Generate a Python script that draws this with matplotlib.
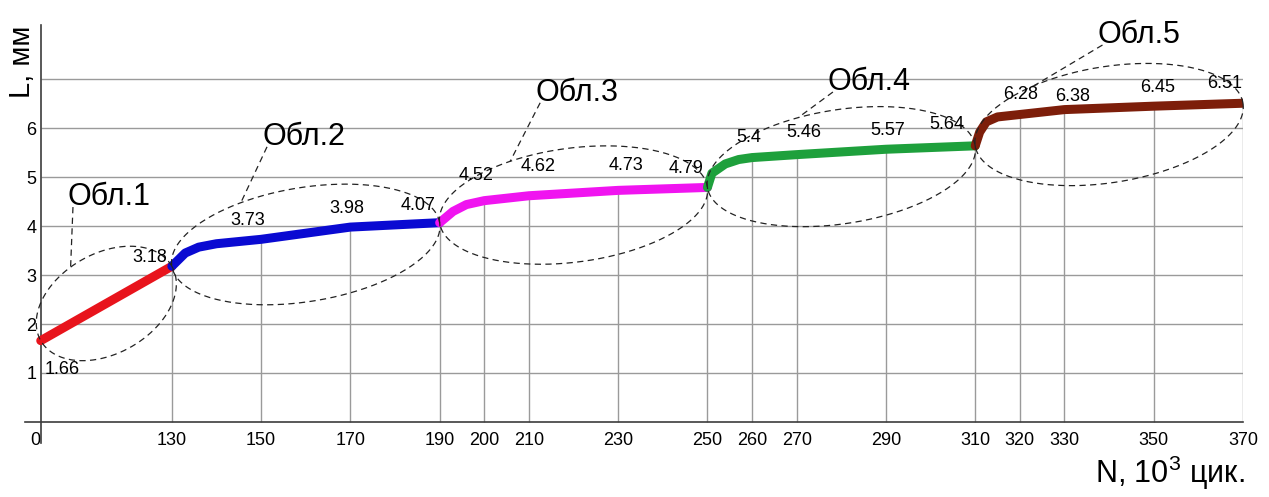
import numpy as np
import matplotlib.pyplot as plt

plt.rcParams['font.family'] = ['Liberation Sans', 'DejaVu Sans']
plt.rcParams['mathtext.fontset'] = 'custom'
plt.rcParams['mathtext.rm'] = 'Liberation Sans'
plt.rcParams['mathtext.it'] = 'Liberation Sans:italic'

# measured points (N in 10^3 cycles, crack length L in mm)
N_TICKS = [0, 130, 150, 170, 190, 200, 210, 230, 250, 260, 270, 290, 310, 320, 330, 350, 370]
L_TICKS = [1.66, 3.18, 3.73, 3.98, 4.07, 4.52, 4.62, 4.73, 4.79, 5.4, 5.46, 5.57, 5.64, 6.28, 6.38, 6.45, 6.51]

# extra points on the fast rise at the start of each stage
KNEE_N = [133, 136, 140, 193, 196, 251, 254, 257, 311, 312.5, 315]
KNEE_L = [3.45, 3.57, 3.64, 4.30, 4.44, 5.08, 5.27, 5.36, 5.92, 6.13, 6.23]

BOUNDS = [0, 130, 190, 250, 310, 370]
COLORS = ['#e8141c', '#0a0ad2', '#f014f0', '#1ea03c', '#7d1e0a']
NAMES = ['Обл.1', 'Обл.2', 'Обл.3', 'Обл.4', 'Обл.5']
NAME_N = [27, 150.2, 211.4, 277, 337.4]
NAME_L = [4.43, 5.66, 6.56, 6.78, 7.74]

# label offsets (pixels) for the values
OFFS = [(21, -29), (-22, 9), (-13, 19), (-4, 19), (-22, 17), (-8, 25), (9, 29), (8, 25),
        (-21, 19), (-3, 20), (7, 22), (2, 19), (-28, 21), (1, 20), (8, 13), (4, 19), (-18, 20)]
ELL_B = [50, 57, 57, 57, 58]
LEADER_T = [100, 115, 115, 105, 120]

# the first 130 thousand cycles are squeezed on the axis
SQ = 0.226


def fwd(x):
    x = np.asarray(x, dtype=float)
    return np.where(x < 130, x * SQ, 130 * SQ + x - 130)


def inv(u):
    u = np.asarray(u, dtype=float)
    return np.where(u < 130 * SQ, u / SQ, u - 130 * SQ + 130)


fig = plt.figure(figsize=(12.69, 4.97), dpi=100)
ax = fig.add_axes([0.0197, 0.1087, 0.9598, 0.8402])
ax.set_xscale('function', functions=(fwd, inv))
ax.set_xlim(-15.6, 370)
ax.set_ylim(-0.43, 8.1)

for s in ['top', 'right']:
    ax.spines[s].set_visible(False)
ax.spines['left'].set_position(('data', 0))
ax.spines['bottom'].set_position(('data', 0))
for s in ['left', 'bottom']:
    ax.spines[s].set_color('#3c3c3c')
    ax.spines[s].set_linewidth(1.2)

ax.set_xticks(N_TICKS)
ax.set_xticklabels([str(n) for n in N_TICKS], fontsize=13)
ax.get_xticklabels()[0].set_horizontalalignment('right')
ax.set_yticks(range(1, 8))
ax.set_yticklabels([str(i) for i in range(1, 7)] + [''], fontsize=13)
ax.tick_params(axis='x', length=0, pad=7)
ax.tick_params(axis='y', length=0, pad=3)

# grid: horizontal lines and drop lines down from each point
ax.hlines(range(1, 8), 0, 370, color='#9a9a9a', lw=1, zorder=1)
ax.vlines(N_TICKS[1:], 0, L_TICKS[1:], color='#9a9a9a', lw=1, zorder=1)

n_all = np.array(N_TICKS + KNEE_N)
l_all = np.array(L_TICKS + KNEE_L)
order = np.argsort(n_all)
n_all, l_all = n_all[order], l_all[order]

for i in range(5):
    lo, hi = BOUNDS[i], BOUNDS[i + 1]
    m = (n_all >= lo) & (n_all <= hi)
    ax.plot(n_all[m], l_all[m], color=COLORS[i], lw=6.5,
            solid_capstyle='round', solid_joinstyle='round', zorder=3)

for n, l, (dx, dy) in zip(N_TICKS, L_TICKS, OFFS):
    ax.annotate(f'{l:g}', (n, l), xytext=(dx, dy), textcoords='offset pixels',
                ha='center', va='center', fontsize=13, zorder=6)

# dashed ellipses around each stage, with a leader to its name
to_px = ax.transData
to_data = ax.transData.inverted()
dash = dict(color='#222222', lw=0.9, ls=(0, (5, 3.5)), clip_on=False, zorder=4)
for i in range(5):
    lo, hi = BOUNDS[i], BOUNDS[i + 1]
    p0 = to_px.transform((lo, L_TICKS[N_TICKS.index(lo)]))
    p1 = to_px.transform((hi, L_TICKS[N_TICKS.index(hi)]))
    c = (p0 + p1) / 2
    d = p1 - p0
    a = np.hypot(*d) / 2
    u = d / np.hypot(*d)
    v = np.array([-u[1], u[0]])
    t = np.linspace(0, 2 * np.pi, 300)
    pts = c + np.outer(a * np.cos(t), u) + np.outer(ELL_B[i] * np.sin(t), v)
    xy = to_data.transform(pts)
    ax.plot(xy[:, 0], xy[:, 1], **dash)

    tl = np.radians(LEADER_T[i])
    end = c + a * np.cos(tl) * u + ELL_B[i] * np.sin(tl) * v
    start = to_px.transform((NAME_N[i], NAME_L[i])) + np.array([5, -2])
    seg = to_data.transform(np.array([start, end]))
    ax.plot(seg[:, 0], seg[:, 1], **dash)
    ax.text(NAME_N[i], NAME_L[i], NAMES[i], fontsize=22, ha='left', va='baseline', zorder=6)

fig.text(22 / 1269, 1 - 62 / 497, 'L, мм', rotation=90, ha='center', va='center', fontsize=21)
fig.text(1245 / 1269, 1 - 483 / 497, 'N, 10$^3$ цик.', ha='right', va='baseline', fontsize=22)

fig.savefig('out.png', dpi=100)
